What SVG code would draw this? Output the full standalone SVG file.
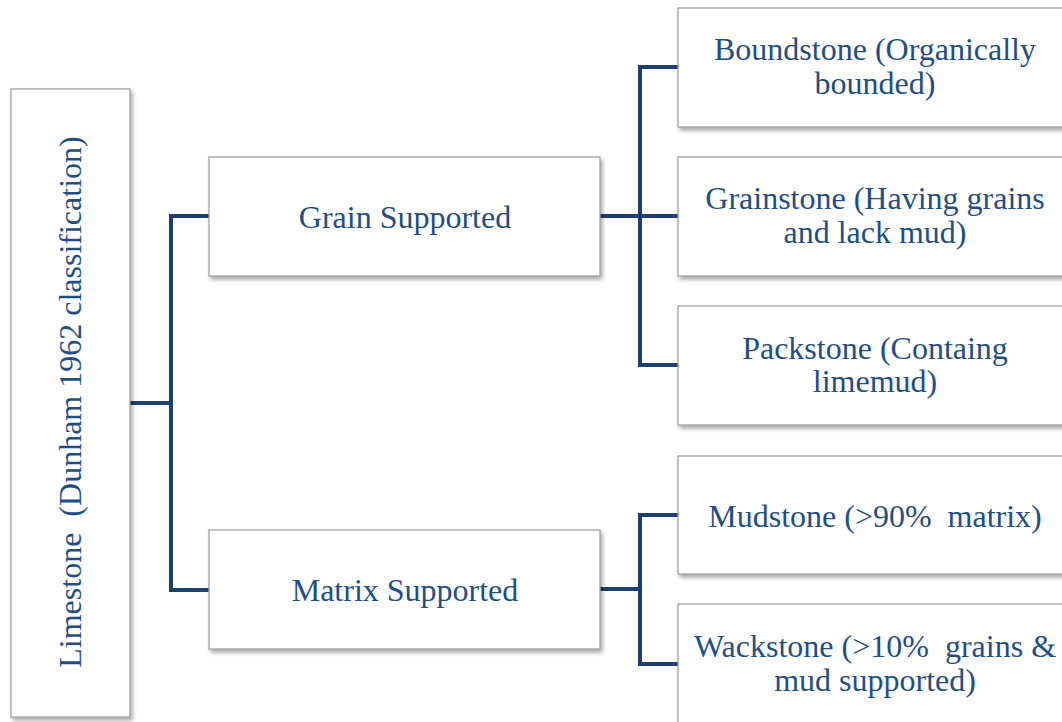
<svg xmlns="http://www.w3.org/2000/svg" width="1062" height="722" viewBox="0 0 1062 722">
<defs>
<filter id="sh" x="-10%" y="-10%" width="130%" height="130%">
<feDropShadow dx="2" dy="3" stdDeviation="2" flood-color="#000" flood-opacity="0.35"/>
</filter>
<style>
.box{fill:#fff;stroke:#9a9a9a;stroke-width:1.2;filter:url(#sh)}
.t{font-family:"Liberation Serif","Times New Roman",serif;font-size:32px;fill:#1f4e87;text-anchor:middle}
.c{fill:none;stroke:#1c4170;stroke-width:4;stroke-linejoin:miter;stroke-linecap:butt}
</style>
</defs>
<rect width="1062" height="722" fill="#fff"/>
<g id="connectors">
<path class="c" d="M130,403 H171 M171,216 V590 M169,216 H209 M169,590 H209"/>
<path class="c" d="M600,216 H640 M640,67 V365 M638,67 H678 M640,216 H678 M638,365 H678"/>
<path class="c" d="M600,589 H640 M640,515 V664 M638,515 H678 M638,664 H678"/>
</g>
<g id="limestone">
<rect class="box" x="11" y="89" width="119" height="628"/>
<text class="t" transform="translate(81,402) rotate(-90)" xml:space="preserve">Limestone  (Dunham 1962 classification)</text>
</g>
<g id="grain">
<rect class="box" x="209" y="157" width="391" height="119"/>
<text class="t" x="405" y="228">Grain Supported</text>
</g>
<g id="matrix">
<rect class="box" x="209" y="530" width="391" height="119"/>
<text class="t" x="405" y="601">Matrix Supported</text>
</g>
<g id="boundstone">
<rect class="box" x="678" y="8" width="395" height="119"/>
<text class="t" x="875" y="60">Boundstone (Organically</text>
<text class="t" x="875" y="94">bounded)</text>
</g>
<g id="grainstone">
<rect class="box" x="678" y="157" width="395" height="119"/>
<text class="t" x="875" y="209">Grainstone (Having grains</text>
<text class="t" x="875" y="243">and lack mud)</text>
</g>
<g id="packstone">
<rect class="box" x="678" y="306" width="395" height="119"/>
<text class="t" x="875" y="359">Packstone (Containg</text>
<text class="t" x="875" y="392">limemud)</text>
</g>
<g id="mudstone">
<rect class="box" x="678" y="456" width="395" height="118"/>
<text class="t" x="875" y="527" xml:space="preserve">Mudstone (&gt;90%  matrix)</text>
</g>
<g id="wackstone">
<rect class="box" x="678" y="604" width="395" height="130"/>
<text class="t" x="875" y="657" xml:space="preserve">Wackstone (&gt;10%  grains &amp;</text>
<text class="t" x="875" y="691">mud supported)</text>
</g>
</svg>
